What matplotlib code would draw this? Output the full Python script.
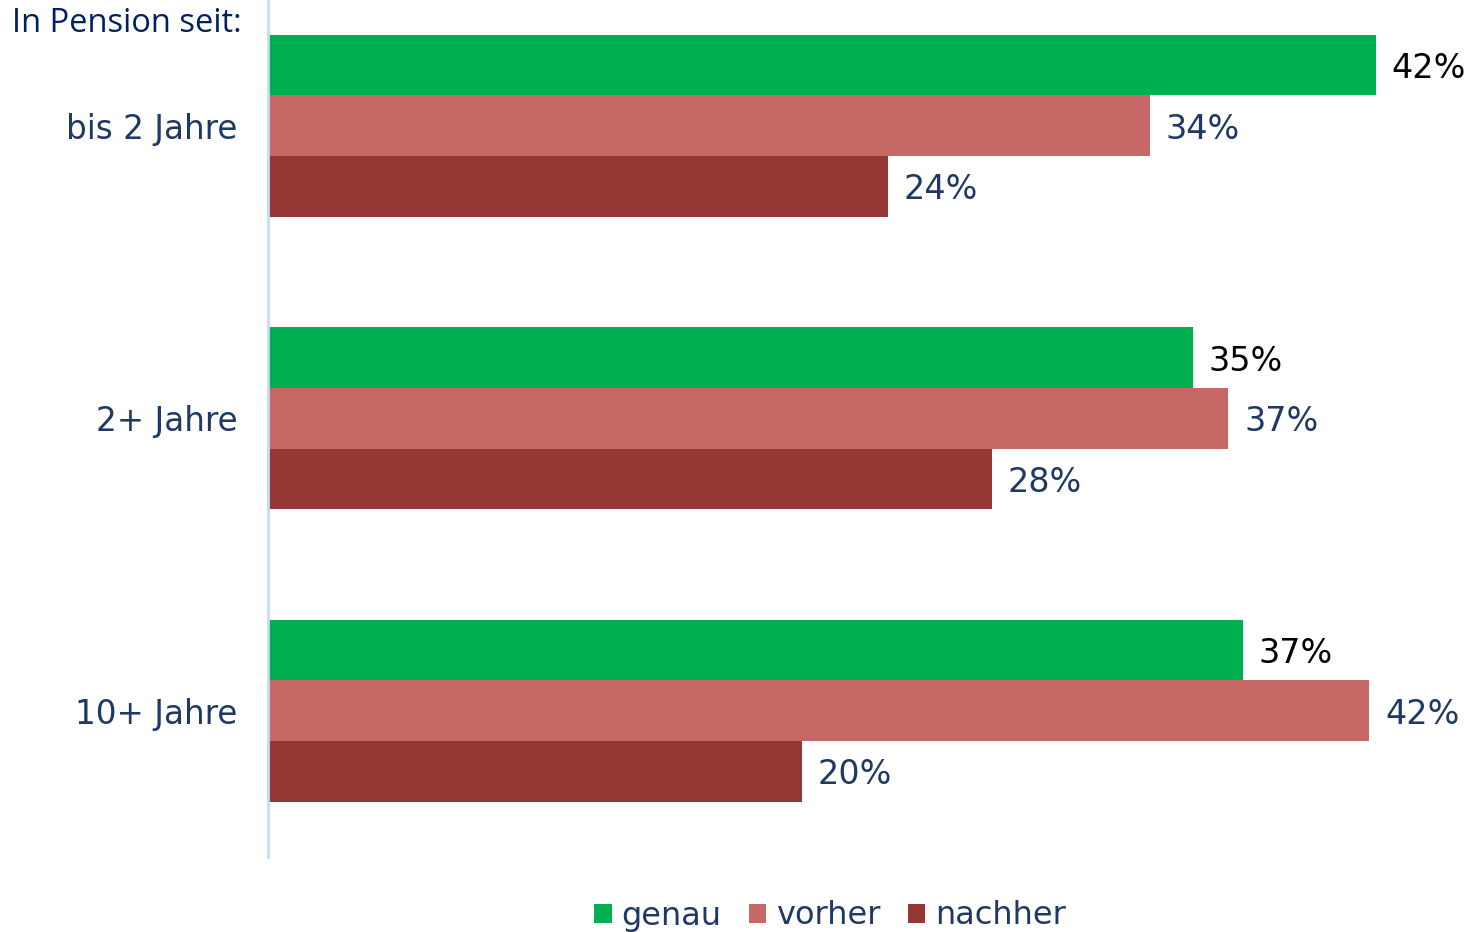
import numpy as np
import matplotlib.pyplot as plt

categories = ["bis 2 Jahre", "2+ Jahre", "10+ Jahre"]
series_names = ["genau", "vorher", "nachher"]
genau = [42.45, 35.45, 37.35]
vorher = [33.8, 36.8, 42.2]
nachher = [23.75, 27.75, 20.45]

colors = ["#00B050", "#C66966", "#953735"]
label_colors = ["black", "#1F3864", "#1F3864"]
navy = "#1F3864"

fig = plt.figure(figsize=(14.71, 9.32), dpi=100)
ax = fig.add_axes([268 / 1471, 1 - 857 / 932, 1 - 268 / 1471, 857 / 932])

y = np.arange(len(categories))
h = 0.2075
offsets = [-h, 0, h]
for vals, off, c, lc, name in zip([genau, vorher, nachher], offsets, colors, label_colors, series_names):
    bars = ax.barh(y + off, vals, height=h, color=c, label=name, edgecolor="none")
    for b, v in zip(bars, vals):
        ax.text(v + 0.6, b.get_y() + h / 2, f"{v:.0f}%", va="center_baseline", ha="left",
                fontsize=24, color=lc)

ax.set_xlim(0, 46.1)
ax.set_ylim(2.5, -0.43)
ax.set_xticks([])
ax.set_yticks(y)
ax.set_yticklabels(categories, fontsize=23.5, color=navy, va="center_baseline")
ax.tick_params(axis="y", length=0, pad=22)
for s in ["top", "right", "bottom"]:
    ax.spines[s].set_visible(False)
ax.spines["left"].set_color("#C5DCF5")
ax.spines["left"].set_linewidth(2)

fig.text(12 / 1471, 1 - 24 / 932, "In Pension seit:", fontsize=23.5, color="#002060",
         family="Open Sans", va="center", ha="left")

fig.legend(loc="center", bbox_to_anchor=(830 / 1471, 1 - 916 / 932), ncol=3,
           frameon=False, fontsize=23, handlelength=0.55, handleheight=0.55,
           handletextpad=0.3, columnspacing=0.85, labelcolor=navy)

fig.savefig("out.png", dpi=100)
